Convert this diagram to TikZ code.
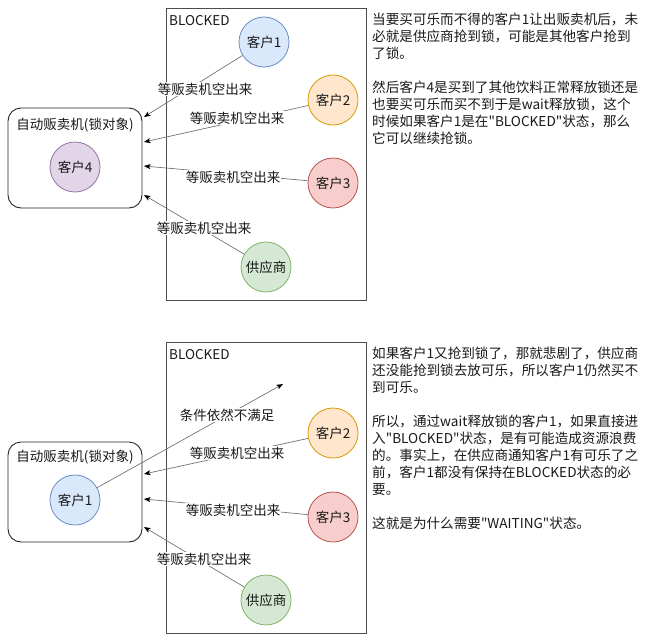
\documentclass[tikz,border=0pt]{standalone}
\usepackage{fontspec}
\setmainfont{Noto Sans CJK SC}[Ligatures=TeXOff]
\usetikzlibrary{arrows.meta,calc}
\definecolor{bluef}{HTML}{DAE8FC}\definecolor{blued}{HTML}{6C8EBF}
\definecolor{orangef}{HTML}{FFE6CC}\definecolor{oranged}{HTML}{D79B00}
\definecolor{redf}{HTML}{F8CECC}\definecolor{redd}{HTML}{B85450}
\definecolor{greenf}{HTML}{D5E8D4}\definecolor{greend}{HTML}{82B366}
\definecolor{purplef}{HTML}{E1D5E7}\definecolor{purpled}{HTML}{9673A6}
\begin{document}
\begin{tikzpicture}[x=1pt,y=-1pt,
  every node/.style={font=\fontsize{13.5}{17}\selectfont, text=black!90},
  person/.style={circle, minimum size=50pt, inner sep=0pt, draw, line width=0.8pt},
  pblue/.style={person, fill=bluef, draw=blued},
  porange/.style={person, fill=orangef, draw=oranged},
  pred/.style={person, fill=redf, draw=redd},
  pgreen/.style={person, fill=greenf, draw=greend},
  ppurple/.style={person, fill=purplef, draw=purpled},
  blockbox/.style={draw=black!70, line width=0.8pt},
  vmbox/.style={draw=black!85, line width=0.9pt, rounded corners=13pt, minimum width=134pt, minimum height=100pt, inner sep=0pt},
  conn/.style={draw=black!55, line width=0.7pt, -{Stealth[length=6.5pt,width=5pt,inset=1.5pt,color=black]}},
  lbl/.style={fill=white, inner sep=1pt},
  para/.style={anchor=north west, inner sep=0pt, align=left, font=\fontsize{13.6}{17}\selectfont}
]
\useasboundingbox (0,0) rectangle (650,642);

% ---------- top panel ----------
\draw[blockbox] (166,8) rectangle (366,300);
\node[anchor=north west, inner sep=0pt] (bl1) at (169,15) {BLOCKED};
\node[vmbox] (vm1) at (75,158) {};
\node (vmt1) at (75,125) {自动贩卖机(锁对象)};
\node[ppurple] (c4) at (75,167) {客户4};
\node[pblue] (c1) at (264,42) {客户1};
\node[porange] (c2) at (333,100) {客户2};
\node[pred] (c3) at (333,183) {客户3};
\node[pgreen] (s1) at (266,267) {供应商};

\draw[conn] (c1) -- ($(vm1.east)+(1.5,-41)$);
\draw[conn] (c2) -- ($(vm1.east)+(1.5,-16)$);
\draw[conn] (c3) -- ($(vm1.east)+(1.5,8)$);
\draw[conn] (s1) -- ($(vm1.east)+(1.5,37)$);
\node[lbl] (l1) at (205,89) {等贩卖机空出来};
\node[lbl] (l2) at (237,118) {等贩卖机空出来};
\node[lbl] (l3) at (233,177) {等贩卖机空出来};
\node[lbl] (l4) at (204,228) {等贩卖机空出来};

\node[para] (t1) at (372,13) {当要买可乐而不得的客户1让出贩卖机后，未\\
必就是供应商抢到锁，可能是其他客户抢到\\
了锁。\\[17pt]
然后客户4是买到了其他饮料正常释放锁还是\\
也要买可乐而买不到于是wait释放锁，这个\\
时候如果客户1是在"BLOCKED"状态，那么\\
它可以继续抢锁。};

% ---------- bottom panel ----------
\draw[blockbox] (166,342) rectangle (366,633);
\node[anchor=north west, inner sep=0pt] (bl2) at (169,349) {BLOCKED};
\node[vmbox] (vm2) at (75,492) {};
\node (vmt2) at (75,457) {自动贩卖机(锁对象)};
\node[pblue] (c1b) at (75,500) {客户1};
\node[porange] (c2b) at (333,433) {客户2};
\node[pred] (c3b) at (333,517) {客户3};
\node[pgreen] (s2) at (266,600) {供应商};
\coordinate (free) at (283,384);

\draw[conn] (c1b) -- (free);
\draw[conn] (c2b) -- ($(vm2.east)+(1.5,-18)$);
\draw[conn] (c3b) -- ($(vm2.east)+(1.5,7)$);
\draw[conn] (s2) -- ($(vm2.east)+(1.5,35)$);
\node[lbl] (m1) at (227,415) {条件依然不满足};
\node[lbl] (m2) at (237,453) {等贩卖机空出来};
\node[lbl] (m3) at (233,510) {等贩卖机空出来};
\node[lbl] (m4) at (204,559) {等贩卖机空出来};

\node[para] (t2) at (372,347) {如果客户1又抢到锁了，那就悲剧了，供应商\\
还没能抢到锁去放可乐，所以客户1仍然买不\\
到可乐。\\[17pt]
所以，通过wait释放锁的客户1，如果直接进\\
入"BLOCKED"状态，是有可能造成资源浪费\\
的。事实上，在供应商通知客户1有可乐了之\\
前，客户1都没有保持在BLOCKED状态的必\\
要。\\[17pt]
这就是为什么需要"WAITING"状态。};
\end{tikzpicture}
\end{document}
